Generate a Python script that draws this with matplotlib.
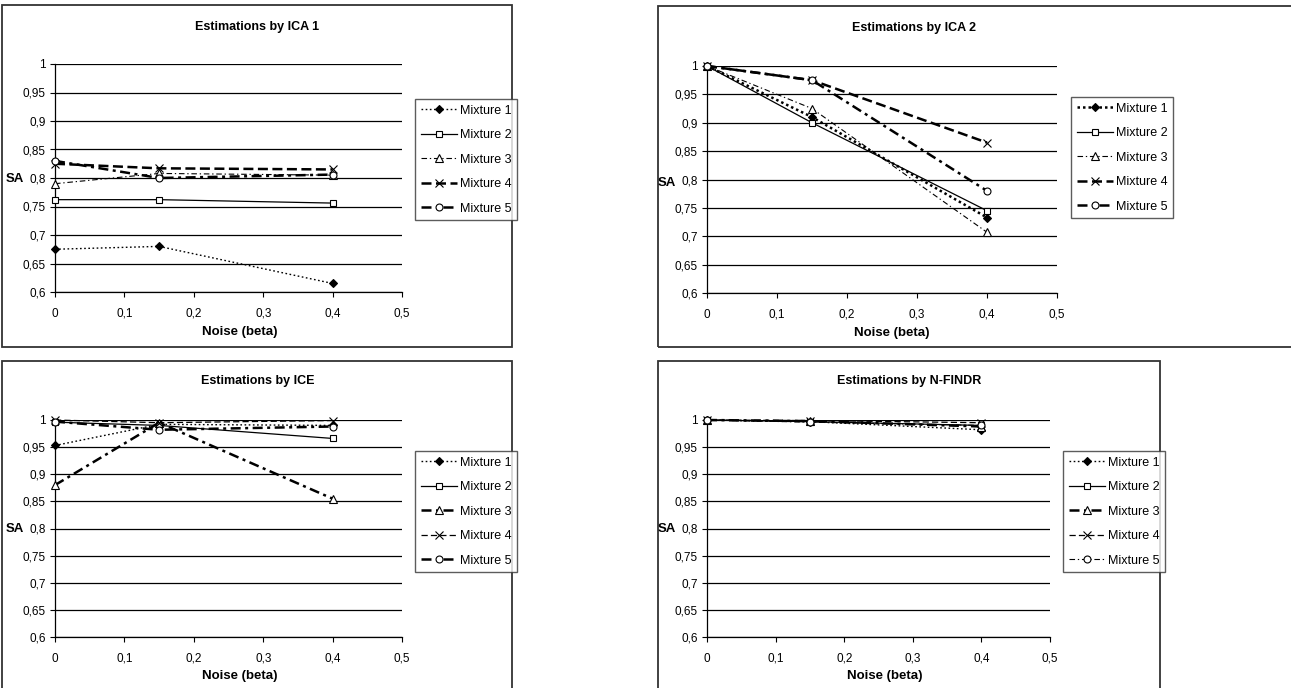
import matplotlib
matplotlib.use('Agg')
import matplotlib.pyplot as plt
from matplotlib.patches import Rectangle
from matplotlib.ticker import FuncFormatter, MultipleLocator

plt.rcParams['font.family'] = ['Liberation Sans', 'DejaVu Sans']

# ---------------- data ----------------
noise = [0.0, 0.15, 0.4]
mixtures = ['Mixture 1', 'Mixture 2', 'Mixture 3', 'Mixture 4', 'Mixture 5']
titles = ['Estimations by ICA 1', 'Estimations by ICA 2',
          'Estimations by ICE', 'Estimations by N-FINDR']

ica1_sa = [
    [0.675, 0.680, 0.615],
    [0.762, 0.762, 0.756],
    [0.790, 0.808, 0.805],
    [0.825, 0.817, 0.815],
    [0.830, 0.800, 0.806],
]
ica2_sa = [
    [1.000, 0.910, 0.733],
    [1.000, 0.900, 0.745],
    [1.000, 0.925, 0.707],
    [1.000, 0.975, 0.865],
    [1.000, 0.975, 0.780],
]
ice_sa = [
    [0.953, 0.992, 0.990],
    [0.996, 0.990, 0.966],
    [0.880, 0.995, 0.855],
    [1.000, 0.995, 0.999],
    [0.997, 0.982, 0.988],
]
nfindr_sa = [
    [1.000, 0.997, 0.982],
    [1.000, 0.997, 0.990],
    [1.000, 0.998, 0.988],
    [1.000, 0.999, 0.995],
    [1.000, 0.996, 0.990],
]
datasets = [ica1_sa, ica2_sa, ice_sa, nfindr_sa]

# ---------------- styles ----------------
DOT = (0, (1.2, 1.8))
DOT_B = (0, (1, 1.2))
SOLID = '-'
DASHDOT = (0, (5, 2.5, 1.2, 2.5))
DASHDOT_B = (0, (4, 1.8, 1.2, 1.8))
DASH = (0, (5, 2.5))
DASH_B = (0, (4, 1.8))

styles = [
    [(DOT, 1.0), (SOLID, 0.9), (DASHDOT, 0.8), (DASH_B, 1.8), (DASHDOT_B, 1.8)],
    [(DOT_B, 1.8), (SOLID, 0.9), (DASHDOT, 0.8), (DASH_B, 1.8), (DASHDOT_B, 1.8)],
    [(DOT, 1.0), (SOLID, 0.9), (DASHDOT_B, 1.8), (DASH, 0.9), (DASHDOT_B, 1.8)],
    [(DOT, 1.0), (SOLID, 0.9), (DASHDOT_B, 1.8), (DASH, 0.9), (DASHDOT, 0.8)],
]
markers = ['D', 's', '^', 'x', 'o']
mfaces = ['black', 'white', 'white', 'none', 'white']
msizes = [4.5, 5, 5.5, 6, 5]

# ---------------- layout (pixels) ----------------
W, H = 1291, 688
fig = plt.figure(figsize=(W / 100, H / 100), dpi=100)


def fx(x):
    return x / W


def fy(y):
    return 1 - y / H


axes_px = [(55, 64, 402, 292), (707, 66, 1057, 293),
           (55, 420, 402, 637), (707, 420, 1050, 637)]
border_px = [(2, 5, 512, 347), (658, 6, 1300, 347),
             (2, 361, 512, 700), (658, 361, 1160, 700)]
legend_px = [(415, 99), (1071, 97), (415, 451), (1063, 451)]
title_px = [(257, 27), (914, 28), (258, 381), (909, 381)]
xlabel_px = [(240, 332), (892, 333), (240, 676), (885, 676)]
salabel_px = [(15, 179), (667, 183), (15, 529), (667, 529)]

fmt = FuncFormatter(lambda v, p: ('%g' % round(v, 3)).replace('.', ','))

for i in range(4):
    x0, y0, x1, y1 = border_px[i]
    fig.patches.append(Rectangle((fx(x0), fy(y1)), fx(x1 - x0), (y1 - y0) / H,
                                 transform=fig.transFigure, fill=False,
                                 edgecolor='#333333', linewidth=1.3, zorder=0))
    a0, b0, a1, b1 = axes_px[i]
    ax = fig.add_axes([fx(a0), fy(b1), fx(a1 - a0), (b1 - b0) / H])
    ax.set_xlim(0, 0.5)
    ax.set_ylim(0.6, 1.0)
    ax.xaxis.set_major_locator(MultipleLocator(0.1))
    ax.yaxis.set_major_locator(MultipleLocator(0.05))
    ax.xaxis.set_major_formatter(fmt)
    ax.yaxis.set_major_formatter(fmt)
    ax.grid(axis='y', color='black', linewidth=0.9)
    ax.set_axisbelow(True)
    for s in ['top', 'right']:
        ax.spines[s].set_visible(False)
    for s in ['left', 'bottom']:
        ax.spines[s].set_linewidth(0.9)
    ax.tick_params(axis='both', direction='out', length=3.5, width=0.8,
                   labelsize=8.5)
    ax.tick_params(axis='x', pad=8)
    ax.tick_params(axis='y', pad=3)

    handles = []
    for k, vals in enumerate(datasets[i]):
        ls, lw = styles[i][k]
        h, = ax.plot(noise, vals, color='black', linestyle=ls, linewidth=lw,
                     marker=markers[k], markersize=msizes[k],
                     markerfacecolor=mfaces[k], markeredgecolor='black',
                     markeredgewidth=0.8, clip_on=False, zorder=3,
                     label=mixtures[k])
        handles.append(h)

    lx, ly = legend_px[i]
    leg = fig.legend(handles=handles, loc='upper left',
                     bbox_to_anchor=(fx(lx), fy(ly)), borderaxespad=0,
                     fontsize=9, frameon=True, fancybox=False,
                     handlelength=2.9, handletextpad=0.25,
                     labelspacing=1.0, borderpad=0.45)
    leg.get_frame().set_edgecolor('#333333')
    leg.get_frame().set_linewidth(1.0)

    tx, ty = title_px[i]
    fig.text(fx(tx), fy(ty), titles[i], ha='center', va='center',
             fontsize=9, fontweight='bold')
    nx, ny = xlabel_px[i]
    fig.text(fx(nx), fy(ny), 'Noise (beta)', ha='center', va='center',
             fontsize=9.5, fontweight='bold')
    sx, sy = salabel_px[i]
    fig.text(fx(sx), fy(sy), 'SA', ha='center', va='center',
             fontsize=9.5, fontweight='bold')

fig.savefig('out.png', dpi=100, facecolor='white')
